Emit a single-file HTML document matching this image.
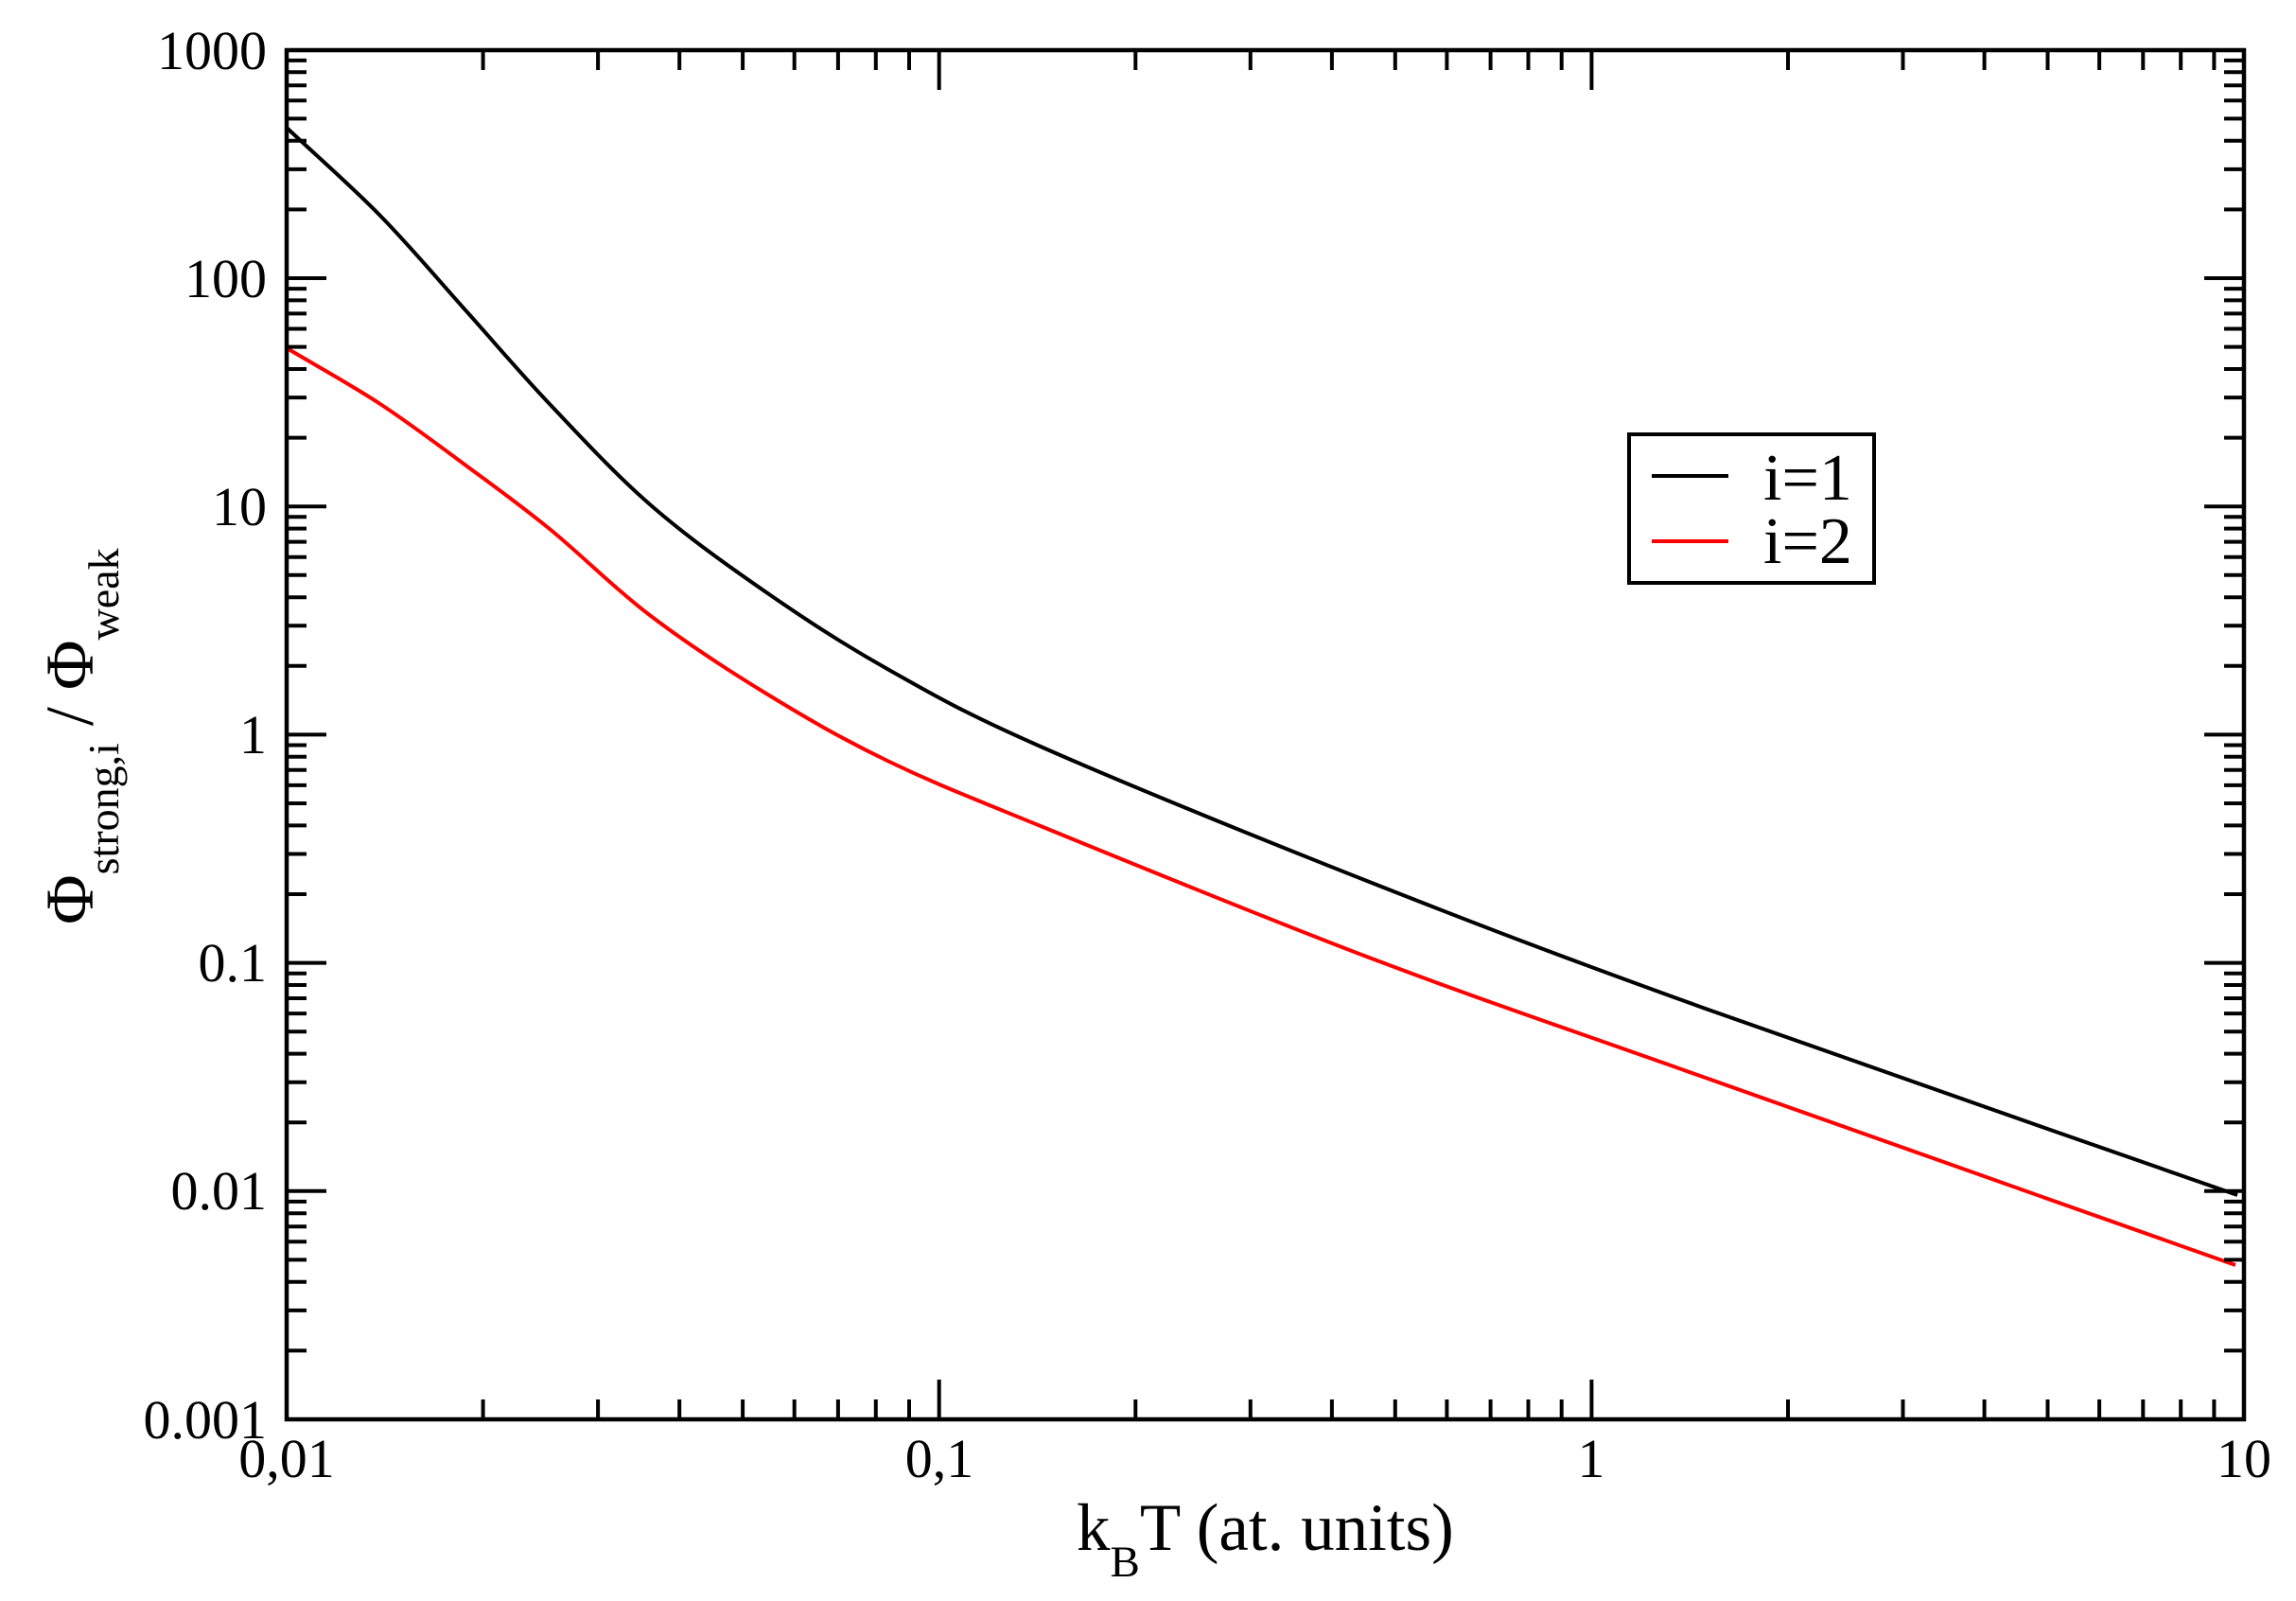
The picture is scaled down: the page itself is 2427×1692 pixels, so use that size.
<!DOCTYPE html>
<html><head><meta charset="utf-8"><style>
html,body{margin:0;padding:0;background:#fff;}
svg{display:block;}
text{font-family:"Liberation Serif","DejaVu Serif",serif;fill:#000;}
</style></head><body>
<svg width="2427" height="1692" viewBox="0 0 2427 1692" xmlns="http://www.w3.org/2000/svg">
<rect width="2427" height="1692" fill="#fff"/>
<!-- curves -->
<path fill="none" stroke="#000" stroke-width="4" d="M302,134
C335.3,165.3 370,195.3 402,228
C434,260.7 464.2,296.8 494,330
C523.8,363.2 548.7,393 581,427
C613.3,461 649.8,500.8 688,534
C726.2,567.2 768.3,597.2 810,626
C851.7,654.8 889.7,679.8 938,707
C986.3,734.2 1014.7,751.3 1100,789
C1185.3,826.7 1333.3,887 1450,933
C1566.7,979 1647.5,1010 1800,1065
C1952.5,1120 2176.7,1197 2365,1263"/>
<path fill="none" stroke="#ff0000" stroke-width="4" d="M305,369
C337.3,388.3 370.5,406.3 402,427
C433.5,447.7 464.2,471 494,493
C523.8,515 548.7,532.7 581,559
C613.3,585.3 649.8,622 688,651
C726.2,680 768.3,707.5 810,733
C851.7,758.5 889.7,780.7 938,804
C986.3,827.3 1014.7,838.2 1100,873
C1185.3,907.8 1333.3,968.8 1450,1013
C1566.7,1057.2 1647.8,1084 1800,1138
C1952.2,1192 2175.3,1270.7 2363,1337"/>
<!-- frame -->
<rect x="303" y="53" width="2069" height="1447" fill="none" stroke="#000" stroke-width="4.5"/>
<!-- ticks -->
<g stroke="#000" stroke-width="4" fill="none">
<path d="M303,1258.8h42M303,1017.6h42M303,776.4h42M303,535.2h42M303,294h42
M2372,1258.8h-42M2372,1017.6h-42M2372,776.4h-42M2372,535.2h-42M2372,294h-42
M992.7,1500v-42M1682.4,1500v-42M992.7,53v42M1682.4,53v42"/>
<path d="
M303,1427.4h21M303,1384.9h21M303,1354.8h21M303,1331.4h21M303,1312.3h21M303,1296.2h21M303,1282.2h21M303,1269.9h21
M303,1186.2h21M303,1143.7h21M303,1113.6h21M303,1090.2h21M303,1071.1h21M303,1055h21M303,1041h21M303,1028.7h21
M303,945h21M303,902.5h21M303,872.4h21M303,849h21M303,829.9h21M303,813.8h21M303,799.8h21M303,787.5h21
M303,703.8h21M303,661.3h21M303,631.2h21M303,607.8h21M303,588.7h21M303,572.6h21M303,558.6h21M303,546.3h21
M303,462.6h21M303,420.1h21M303,390h21M303,366.6h21M303,347.5h21M303,331.4h21M303,317.4h21M303,305.1h21
M303,221.4h21M303,178.9h21M303,148.8h21M303,125.4h21M303,106.3h21M303,90.2h21M303,76.2h21M303,63.9h21
M2372,1427.4h-21M2372,1384.9h-21M2372,1354.8h-21M2372,1331.4h-21M2372,1312.3h-21M2372,1296.2h-21M2372,1282.2h-21M2372,1269.9h-21
M2372,1186.2h-21M2372,1143.7h-21M2372,1113.6h-21M2372,1090.2h-21M2372,1071.1h-21M2372,1055h-21M2372,1041h-21M2372,1028.7h-21
M2372,945h-21M2372,902.5h-21M2372,872.4h-21M2372,849h-21M2372,829.9h-21M2372,813.8h-21M2372,799.8h-21M2372,787.5h-21
M2372,703.8h-21M2372,661.3h-21M2372,631.2h-21M2372,607.8h-21M2372,588.7h-21M2372,572.6h-21M2372,558.6h-21M2372,546.3h-21
M2372,462.6h-21M2372,420.1h-21M2372,390h-21M2372,366.6h-21M2372,347.5h-21M2372,331.4h-21M2372,317.4h-21M2372,305.1h-21
M2372,221.4h-21M2372,178.9h-21M2372,148.8h-21M2372,125.4h-21M2372,106.3h-21M2372,90.2h-21M2372,76.2h-21M2372,63.9h-21
M510.6,1500v-21M632.1,1500v-21M718.2,1500v-21M785.1,1500v-21M839.7,1500v-21M885.9,1500v-21M925.8,1500v-21M961,1500v-21
M1200.3,1500v-21M1321.8,1500v-21M1407.9,1500v-21M1474.8,1500v-21M1529.4,1500v-21M1575.6,1500v-21M1615.5,1500v-21M1650.7,1500v-21
M1890,1500v-21M2011.5,1500v-21M2097.6,1500v-21M2164.5,1500v-21M2219.1,1500v-21M2265.3,1500v-21M2305.2,1500v-21M2340.4,1500v-21
M510.6,53v21M632.1,53v21M718.2,53v21M785.1,53v21M839.7,53v21M885.9,53v21M925.8,53v21M961,53v21
M1200.3,53v21M1321.8,53v21M1407.9,53v21M1474.8,53v21M1529.4,53v21M1575.6,53v21M1615.5,53v21M1650.7,53v21
M1890,53v21M2011.5,53v21M2097.6,53v21M2164.5,53v21M2219.1,53v21M2265.3,53v21M2305.2,53v21M2340.4,53v21"/>
</g>
<!-- y tick labels -->
<g font-size="58" text-anchor="end">
<text x="282" y="73">1000</text>
<text x="282" y="314">100</text>
<text x="282" y="555">10</text>
<text x="282" y="796">1</text>
<text x="282" y="1037">0.1</text>
<text x="282" y="1278">0.01</text>
<text x="282" y="1520">0.001</text>
</g>
<!-- x tick labels -->
<g font-size="58" text-anchor="middle">
<text x="303" y="1561">0,01</text>
<text x="993" y="1561">0,1</text>
<text x="1682" y="1561">1</text>
<text x="2372" y="1561">10</text>
</g>
<!-- axis titles -->
<text x="1138" y="1638" font-size="71">k<tspan font-size="47" dy="28">B</tspan><tspan dy="-28">T (at. units)</tspan></text>
<text transform="translate(98,977) rotate(-90)" font-size="72">Φ<tspan font-size="46" dy="27">strong,i</tspan><tspan dy="-27"> / Φ</tspan><tspan font-size="46" dy="27">weak</tspan></text>
<!-- legend -->
<rect x="1722" y="459" width="259" height="157" fill="#fff" stroke="#000" stroke-width="4"/>
<line x1="1746" y1="503" x2="1827" y2="503" stroke="#000" stroke-width="4"/>
<line x1="1746" y1="572" x2="1827" y2="572" stroke="#ff0000" stroke-width="4"/>
<g font-size="70">
<text x="1864" y="528">i=1</text>
<text x="1864" y="595">i=2</text>
</g>
</svg>
</body></html>
